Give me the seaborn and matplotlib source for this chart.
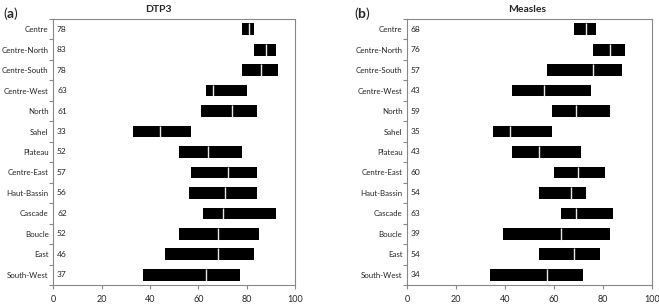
import matplotlib
matplotlib.use("Agg")
import matplotlib.pyplot as plt
import seaborn as sns
from matplotlib.ticker import FixedLocator

regions = ["Centre", "Centre-North", "Centre-South", "Centre-West", "North", "Sahel",
           "Plateau", "Centre-East", "Haut-Bassin", "Cascade", "Boucle", "East", "South-West"]

# DTP3 coverage: min / median / max
dtp3_min = [78, 83, 78, 63, 61, 33, 52, 57, 56, 62, 52, 46, 37]
dtp3_mid = [81, 88, 86, 66, 74, 44, 64, 72, 71, 70, 68, 68, 63]
dtp3_max = [83, 92, 93, 80, 84, 57, 78, 84, 84, 92, 85, 83, 77]

# Measles coverage: min / median / max
meas_min = [68, 76, 57, 43, 59, 35, 43, 60, 54, 63, 39, 54, 34]
meas_mid = [73, 83, 76, 56, 69, 42, 54, 70, 67, 69, 63, 68, 57]
meas_max = [77, 89, 88, 75, 83, 59, 71, 81, 73, 84, 83, 79, 72]

sns.set_style("white")
plt.rcParams["font.family"] = ["Lato", "DejaVu Sans"]
plt.rcParams["mathtext.fontset"] = "custom"
plt.rcParams["mathtext.bf"] = "Lato:bold"
plt.rcParams["mathtext.rm"] = "Lato"

fig = plt.figure(figsize=(6.59, 3.04), dpi=100)
ax1 = fig.add_axes([0.081, 0.0625, 0.367, 0.875])
ax2 = fig.add_axes([0.618, 0.0625, 0.371, 0.875])

panels = [
    (ax1, dtp3_min, dtp3_mid, dtp3_max, "DTP3", 0.24, "(a)", 0.004),
    (ax2, meas_min, meas_mid, meas_max, "Measles", 0.80, "(b)", 0.537),
]

for ax, lo, mid, hi, ttl, tx, tag, tagx in panels:
    y = list(range(len(regions)))
    ax.barh(y, [h - l for l, h in zip(lo, hi)], left=lo, height=0.57,
            color="black", edgecolor="none", zorder=2)
    ax.vlines(mid, [i - 0.285 for i in y], [i + 0.285 for i in y],
              color="#e8e8e8", lw=1.0, zorder=3)
    for i, v in enumerate(lo):
        ax.text(1.5, i, str(v), va="center", ha="left", fontsize=6, color="#222222")
    ax.set_xlim(0, 100)
    ax.set_ylim(len(regions) - 0.5, -0.5)
    ax.set_xticks([0, 20, 40, 60, 80, 100])
    ax.set_yticks(y)
    ax.set_yticklabels(regions)
    ax.yaxis.set_minor_locator(FixedLocator([i + 0.5 for i in range(-1, len(regions))]))
    ax.tick_params(axis="y", which="major", length=0, pad=3.5, labelsize=5.7)
    ax.tick_params(axis="y", which="minor", left=True, length=3, width=0.8,
                   color="#888888", direction="out")
    ax.tick_params(axis="x", which="major", bottom=True, length=3, width=0.8,
                   color="#888888", direction="out", labelsize=6.5, pad=4)
    for s in ax.spines.values():
        s.set_visible(True)
        s.set_color("#888888")
        s.set_linewidth(0.8)
    fig.text(tx, 0.985, ttl, ha="center", va="top", fontsize=7.5, fontweight="bold")
    fig.text(tagx, 0.985, tag[0] + r"$\mathbf{" + tag[1] + "}$" + tag[2],
             ha="left", va="top", fontsize=10)

fig.savefig("out.png", dpi=100)
